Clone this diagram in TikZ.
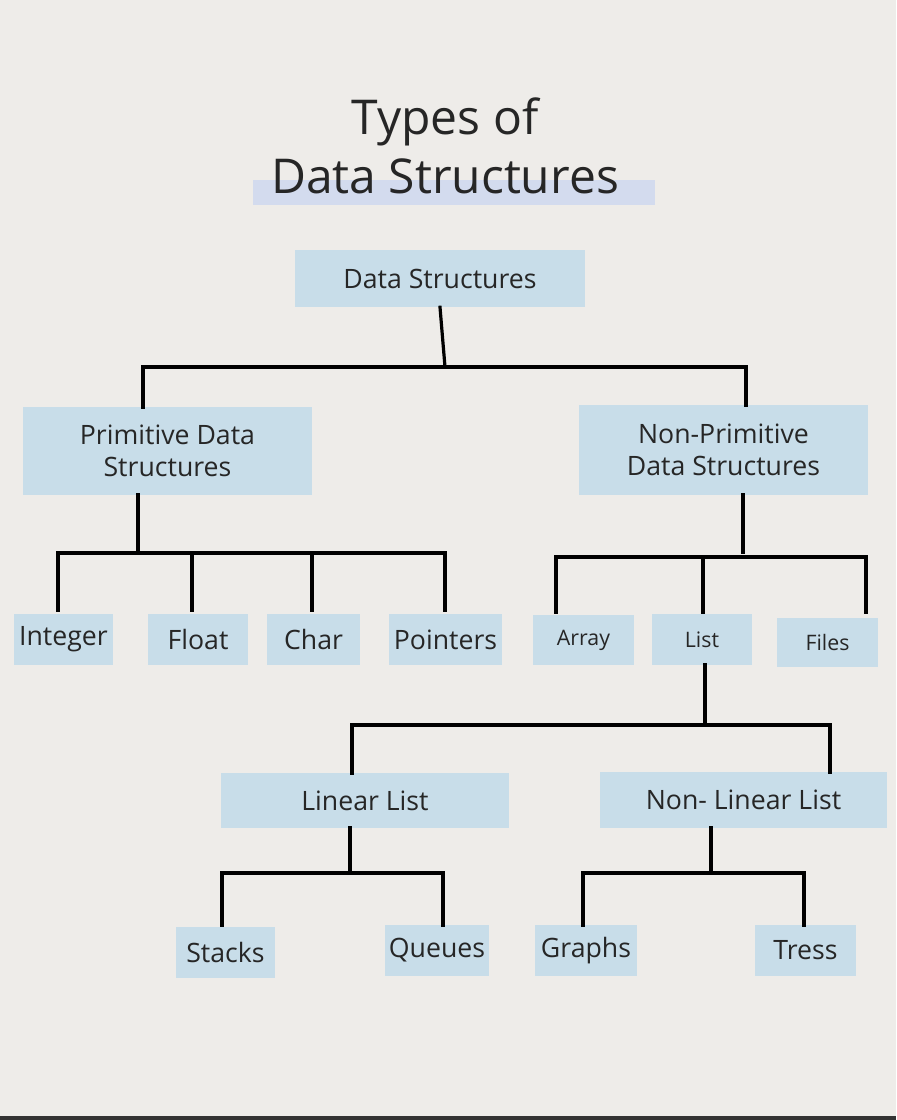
\documentclass[tikz,border=0pt]{standalone}
\usepackage{fontspec}
\setmainfont{Open Sans}
\usetikzlibrary{fit}
\definecolor{bg}{HTML}{EEECE9}
\definecolor{boxc}{HTML}{C8DDE9}
\definecolor{hl}{HTML}{D3DBEE}
\tikzset{
 box/.style={fill=boxc, inner sep=0pt},
 conn/.style={line width=2.4pt, line cap=rect},
 lbl/.style={font=\fontsize{20}{24}\selectfont, align=center, text=black!85},
 slbl/.style={font=\fontsize{16}{19}\selectfont, text=black!85}
}
\begin{document}
\begin{tikzpicture}[x=0.75pt,y=-0.75pt]
\fill[bg] (0,0) rectangle (896,1120);
\useasboundingbox (0,0) rectangle (896,1120);
\fill[black!80] (0,1116) rectangle (896,1120);
\fill[hl] (253,180) rectangle (655,205);
\node[font=\fontsize{36}{44}\selectfont, align=center, text=black!85] (title) at (445,146) {Types of\\Data Structures};
\newcommand\bx[6]{\node[box, fit={(#2,#3)(#4,#5)}] (#1) {}; \node[lbl] at (#1) {#6};}
\newcommand\sbx[6]{\node[box, fit={(#2,#3)(#4,#5)}] (#1) {}; \node[slbl] at (#1) {#6};}
\bx{ds}{295}{250}{585}{307}{Data Structures}
\bx{prim}{23}{407}{312}{495}{Primitive Data\\Structures}
\bx{nprim}{579}{405}{868}{495}{Non-Primitive\\Data Structures}
\bx{int}{14}{614}{113}{665}{Integer}
\bx{flt}{148}{614}{248}{665}{Float}
\bx{chr}{267}{614}{360}{665}{Char}
\bx{ptr}{389}{614}{502}{665}{Pointers}
\sbx{arr}{533}{615}{634}{665}{Array}
\sbx{lst}{652}{614}{752}{665}{List}
\sbx{fil}{777}{618}{878}{667}{Files}
\bx{lin}{221}{773}{509}{828}{Linear List}
\bx{nlin}{600}{772}{887}{828}{Non- Linear List}
\bx{stk}{176}{927}{275}{978}{Stacks}
\bx{que}{385}{925}{489}{976}{Queues}
\bx{gra}{535}{925}{637}{976}{Graphs}
\bx{tre}{755}{925}{856}{976}{Tress}
% connectors
\draw[conn] (ds.south) -- (445,367);
\draw[conn] (143,407) -- (143,367) -- (746,367) -- (746,405);
\draw[conn] (138,495) -- (138,553);
\draw[conn] (58,610) -- (58,553) -- (445,553) -- (445,610);
\draw[conn] (192,553) -- (192,610); \draw[conn] (312,553) -- (312,610);
\draw[conn] (743,495) -- (743,552);
\draw[conn] (556,612) -- (556,557) -- (866,557) -- (866,612);
\draw[conn] (703,557) -- (703,612);
\draw[conn] (705,665) -- (705,725);
\draw[conn] (352,773) -- (352,725) -- (830,725) -- (830,772);
\draw[conn] (350,828) -- (350,873);
\draw[conn] (222,925) -- (222,873) -- (443,873) -- (443,925);
\draw[conn] (711,828) -- (711,873);
\draw[conn] (583,925) -- (583,873) -- (804,873) -- (804,925);
\end{tikzpicture}
\end{document}
